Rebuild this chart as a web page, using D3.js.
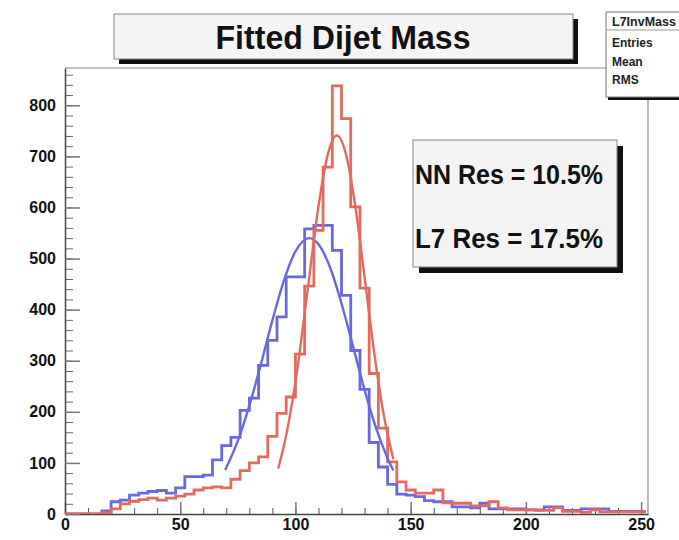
<!DOCTYPE html>
<html>
<head>
<meta charset="utf-8">
<script src="https://cdn.jsdelivr.net/npm/d3@7"></script>
<style>
  body { margin: 0; background: #fff; }
  text { font-family: "Liberation Sans", Arial, sans-serif; }
</style>
</head>
<body>
<script>
// bin width of the dijet mass histograms (GeV)
var binWidth = 4;

// L7 (blue) and NN (red) histogram counts, one value per 4 GeV bin from 0
var blueCounts = [0, 0, 0, 0, 6, 24, 27, 37, 41, 44, 46, 41, 51, 73, 73, 76,
    106, 134, 150, 203, 227, 291, 340, 386, 464, 464, 558, 565, 565, 516, 428, 320,
    244, 140, 92, 58, 39, 37, 34, 26, 24, 24, 14, 14, 12, 21, 10, 10,
    10, 10, 8, 8, 14, 14, 7, 7, 10, 10, 10, 5, 5, 5, 5];
var redCounts = [0, 0, 0, 0, 2, 10, 20, 25, 28, 31, 27, 31, 35, 39, 47, 51,
    53, 51, 68, 85, 100, 112, 152, 197, 229, 313, 446, 555, 679, 838, 774, 601,
    442, 275, 168, 102, 63, 47, 41, 41, 47, 22, 21, 21, 16, 16, 24, 12,
    8, 8, 8, 7, 7, 12, 5, 5, 3, 8, 4, 4, 4, 4, 4];

// fitted curves: [mass, height]
var blueFit = [[69.5, 86], [75, 143], [80, 212], [85, 293], [90, 379], [95, 457],
    [100, 514], [106, 540], [110, 528], [115, 483], [120, 412], [125, 328],
    [130, 243], [135, 168], [140, 109], [142.5, 85]];
var redFit = [[92.5, 89], [95, 133], [100, 258], [105, 428], [110, 602], [114, 703],
    [118, 741], [122, 703], [126, 602], [130, 464], [134, 322], [138, 202],
    [142.5, 107]];

var xTicks = [0, 50, 100, 150, 200, 250];
var yTicks = [0, 100, 200, 300, 400, 500, 600, 700, 800];
var resLabels = ["NN Res = 10.5%", "L7 Res = 17.5%"];
var statsLabels = ["Entries", "Mean", "RMS"];

var width = 679;
var height = 540;
var blue = "#6868e4";
var red = "#e26a5e";

var svg = d3.select("body")
    .append("svg")
    .attr("width", width)
    .attr("height", height);

var x = d3.scaleLinear().domain([0, 253]).range([65, 648]);
var y = d3.scaleLinear().domain([0, 873]).range([514, 68]);

svg.append("clipPath").attr("id", "plot")
    .append("rect")
    .attr("x", 65).attr("y", 68)
    .attr("width", 583).attr("height", 446);

// frame top and right
svg.append("path")
    .attr("d", "M65,68H648V514")
    .attr("fill", "none")
    .attr("stroke", "#8a8a8a")
    .attr("stroke-width", 1.2);

// minor ticks
svg.append("g")
    .attr("transform", "translate(0,514)")
    .call(d3.axisBottom(x).tickValues(d3.range(0, 251, 10)).tickSize(-6).tickFormat(""))
    .call(function(g) { g.select(".domain").remove(); })
    .selectAll("line").attr("stroke", "#555");
svg.append("g")
    .attr("transform", "translate(65,0)")
    .call(d3.axisLeft(y).tickValues(d3.range(0, 861, 20)).tickSize(-8).tickFormat(""))
    .call(function(g) { g.select(".domain").remove(); })
    .selectAll("line").attr("stroke", "#666");

// major axes
var xAxis = svg.append("g")
    .attr("transform", "translate(0,514)")
    .call(d3.axisBottom(x).tickValues(xTicks).tickSize(-12).tickPadding(5).tickSizeOuter(0));
var yAxis = svg.append("g")
    .attr("transform", "translate(65,0)")
    .call(d3.axisLeft(y).tickValues(yTicks).tickSize(-15).tickPadding(9).tickSizeOuter(0));

[xAxis, yAxis].forEach(function(a) {
    a.select(".domain").attr("stroke", "#444").attr("stroke-width", 1.5);
    a.selectAll("line").attr("stroke", "#777").attr("stroke-width", 1.5);
    a.selectAll("text")
        .attr("fill", "#111")
        .style("font-size", "16px")
        .style("font-weight", "bold");
});

// histograms
var histLine = d3.line()
    .x(function(d) { return x(d[0]); })
    .y(function(d) { return y(d[1]); })
    .curve(d3.curveStepAfter);

function histPoints(counts) {
    var pts = counts.map(function(v, i) { return [i * binWidth, v]; });
    pts.push([counts.length * binWidth, counts[counts.length - 1]]);
    return pts;
}

var plot = svg.append("g").attr("clip-path", "url(#plot)");

plot.append("path")
    .datum(histPoints(blueCounts))
    .attr("d", histLine)
    .attr("fill", "none")
    .attr("stroke", blue)
    .attr("stroke-width", 2.8);

plot.append("path")
    .datum(histPoints(redCounts))
    .attr("d", histLine)
    .attr("fill", "none")
    .attr("stroke", red)
    .attr("stroke-width", 2.8);

var fitLine = d3.line()
    .x(function(d) { return x(d[0]); })
    .y(function(d) { return y(d[1]); })
    .curve(d3.curveMonotoneX);

plot.append("path")
    .datum(blueFit)
    .attr("d", fitLine)
    .attr("fill", "none")
    .attr("stroke", blue)
    .attr("stroke-width", 2.4);

plot.append("path")
    .datum(redFit)
    .attr("d", fitLine)
    .attr("fill", "none")
    .attr("stroke", red)
    .attr("stroke-width", 2.4);

// title box with shadow
svg.append("rect")
    .attr("x", 119).attr("y", 19)
    .attr("width", 459).attr("height", 45)
    .attr("fill", "#111");
svg.append("rect")
    .attr("x", 114).attr("y", 14)
    .attr("width", 459).attr("height", 45)
    .attr("fill", "#f4f4f4")
    .attr("stroke", "#888")
    .attr("stroke-width", 1);
svg.append("text")
    .attr("x", 343).attr("y", 49)
    .attr("text-anchor", "middle")
    .attr("textLength", 255)
    .attr("lengthAdjust", "spacingAndGlyphs")
    .style("font-size", "34px")
    .style("font-weight", "bold")
    .attr("fill", "#111")
    .text("Fitted Dijet Mass");

// stats box (cut off at the right edge)
svg.append("rect")
    .attr("x", 608).attr("y", 15)
    .attr("width", 80).attr("height", 85)
    .attr("fill", "#111");
svg.append("rect")
    .attr("x", 606).attr("y", 12)
    .attr("width", 80).attr("height", 85)
    .attr("fill", "#fff")
    .attr("stroke", "#777");
svg.append("line")
    .attr("x1", 606).attr("x2", 679)
    .attr("y1", 30).attr("y2", 30)
    .attr("stroke", "#999");
svg.append("text")
    .attr("x", 612).attr("y", 26)
    .style("font-size", "12.5px")
    .style("font-weight", "bold")
    .attr("fill", "#222")
    .text("L7InvMass");
svg.selectAll(".stat")
    .data(statsLabels)
    .enter()
    .append("text")
    .attr("class", "stat")
    .attr("x", 612)
    .attr("y", function(d, i) { return 47 + i * 18.5; })
    .style("font-size", "12px")
    .style("font-weight", "bold")
    .attr("fill", "#222")
    .text(function(d) { return d; });

// resolution box
svg.append("rect")
    .attr("x", 419).attr("y", 146)
    .attr("width", 204).attr("height", 127)
    .attr("fill", "#111");
svg.append("rect")
    .attr("x", 413).attr("y", 140)
    .attr("width", 204).attr("height", 127)
    .attr("fill", "#f3f3f3")
    .attr("stroke", "#888");
svg.selectAll(".res")
    .data(resLabels)
    .enter()
    .append("text")
    .attr("class", "res")
    .attr("x", 509)
    .attr("y", function(d, i) { return 184 + i * 64; })
    .attr("text-anchor", "middle")
    .attr("textLength", 188)
    .attr("lengthAdjust", "spacingAndGlyphs")
    .style("font-size", "28px")
    .style("font-weight", "bold")
    .attr("fill", "#111")
    .text(function(d) { return d; });
</script>
</body>
</html>
